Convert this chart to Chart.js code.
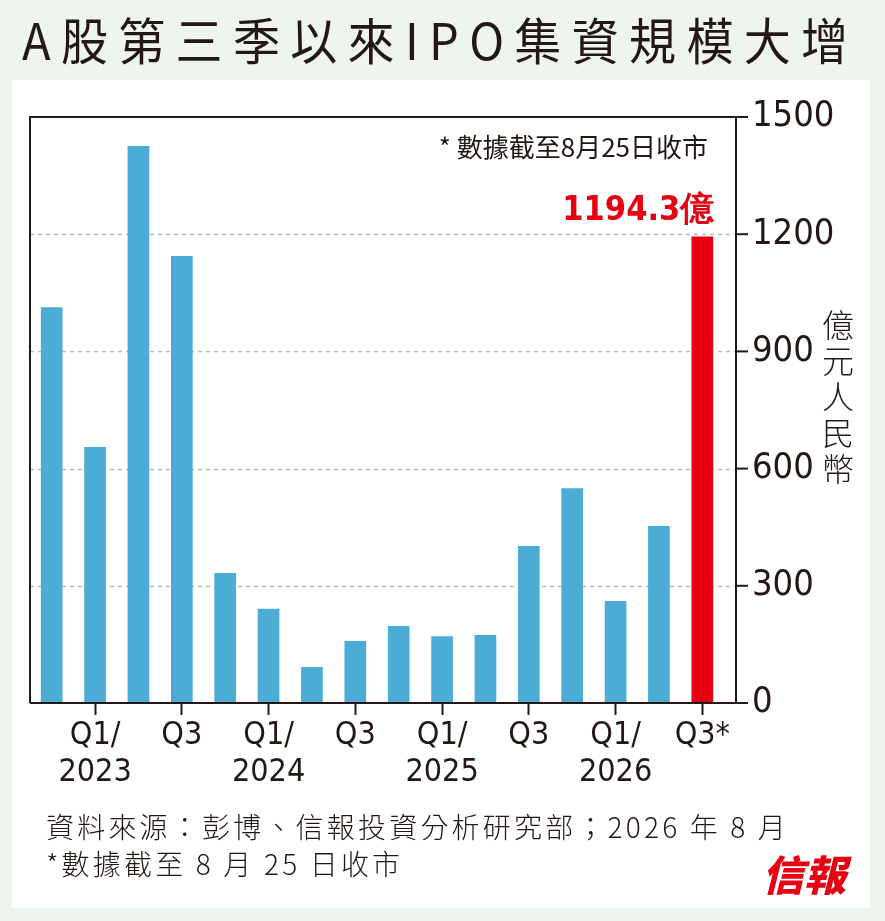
<!DOCTYPE html>
<html><head><meta charset="utf-8">
<script src="https://cdn.jsdelivr.net/npm/chart.js@4"></script>
<style>
body{margin:0;background:#eef5ee;width:885px;height:921px;overflow:hidden;font-family:"Noto Sans CJK TC","Noto Sans",sans-serif;}
#panel{position:absolute;left:12px;top:80px;width:858px;height:828px;background:#fff;}
#title{position:absolute;left:22px;top:2px;font-size:50px;color:#231815;letter-spacing:11px;white-space:nowrap;transform:scaleX(0.94);transform-origin:left;}
#wrap{position:absolute;left:0;top:0;width:885px;height:921px;}
#ytitle{position:absolute;left:820px;top:305px;font-size:32px;line-height:36px;width:36px;text-align:center;color:#231815;font-weight:300;}
.foot{position:absolute;left:46px;font-size:28px;color:#231815;white-space:nowrap;font-weight:300;letter-spacing:3.2px;}
#logo{position:absolute;left:762px;top:842px;font-size:42px;font-weight:900;color:#e60012;font-style:italic;}
</style></head><body>
<div id="panel"></div>
<div id="title">A股第三季以來IPO集資規模大增</div>
<div id="wrap"><canvas id="c" width="885" height="921"></canvas></div>
<div id="ytitle">億<br>元<br>人<br>民<br>幣</div>
<div class="foot" style="top:806px">資料來源：彭博、信報投資分析研究部；2026 年 8 月</div>
<div class="foot" style="top:843px">*數據截至 8 月 25 日收市</div>
<div id="logo">信報</div>
<script>
const categories = ['', ['Q1/','2023'], '', 'Q3', '', ['Q1/','2024'], '', 'Q3', '', ['Q1/','2025'], '', 'Q3', '', ['Q1/','2026'], '', 'Q3*'];
const ipoValues = [1013, 655, 1426, 1144, 333, 241, 92, 159, 197, 171, 174, 402, 550, 261, 453, 1194.3];
const yTicks = [0, 300, 600, 900, 1200, 1500];
const lastLabel = '1194.3億';
const note = '* 數據截至8月25日收市';

const barColors = ipoValues.map((v, i) => i === ipoValues.length - 1 ? '#e60012' : '#4bacd6');
const frameRight = 736;

const frame = {
  id: 'frame',
  beforeDatasetsDraw(chart) {
    const c = chart.ctx, a = chart.chartArea, y = chart.scales.y;
    c.save();
    c.strokeStyle = '#bbbbbb';
    c.lineWidth = 1.5;
    c.setLineDash([4, 4]);
    yTicks.forEach(v => {
      if (v === 0 || v === 1500) return;
      const py = Math.round(y.getPixelForValue(v)) + 0.5;
      c.beginPath(); c.moveTo(a.left, py); c.lineTo(frameRight, py); c.stroke();
    });
    c.restore();
  },
  afterDraw(chart) {
    const c = chart.ctx, a = chart.chartArea, y = chart.scales.y;
    c.save();
    c.strokeStyle = '#231815';
    c.lineWidth = 2;
    c.beginPath();
    c.moveTo(a.left, a.bottom); c.lineTo(a.left, a.top); c.lineTo(frameRight, a.top); c.lineTo(frameRight, a.bottom);
    c.stroke();
    c.beginPath(); c.moveTo(a.left, a.bottom); c.lineTo(frameRight + 12, a.bottom); c.stroke();
    // right axis ticks and labels
    c.fillStyle = '#231815';
    c.font = '36px "DejaVu Sans Condensed"';
    c.textAlign = 'left';
    c.textBaseline = 'middle';
    yTicks.forEach(v => {
      const py = y.getPixelForValue(v);
      c.beginPath(); c.moveTo(frameRight, py); c.lineTo(frameRight + 12, py); c.stroke();
      c.fillText(String(v), frameRight + 16, py);
    });
    // note and value label
    c.font = '26px "Noto Sans CJK TC"';
    c.textAlign = 'right';
    c.fillText(note, 708, a.top + 30);
    const meta = chart.getDatasetMeta(0).data;
    const last = meta[meta.length - 1];
    c.fillStyle = '#e60012';
    c.font = 'bold 34px "DejaVu Sans Condensed"';
    c.textBaseline = 'bottom';
    c.fillText(lastLabel, last.x + 12, last.y - 8);
    c.restore();
  }
};

new Chart(document.getElementById('c'), {
  type: 'bar',
  data: {
    labels: categories,
    datasets: [{ data: ipoValues, backgroundColor: barColors, barPercentage: 0.5, categoryPercentage: 1 }]
  },
  options: {
    responsive: false,
    animation: false,
    layout: { padding: { left: 30, top: 117, right: 0, bottom: 0 } },
    plugins: { legend: { display: false }, tooltip: { enabled: false } },
    scales: {
      x: {
        offset: true,
        afterFit(s) { s.height = 921 - 703; },
        grid: {
          offset: false, drawOnChartArea: false, tickLength: 12, tickWidth: 2,
          tickColor: ctx => (ctx.tick && ctx.tick.label && ctx.tick.label !== '') ? '#231815' : 'rgba(0,0,0,0)'
        },
        border: { display: false },
        ticks: { autoSkip: false, maxRotation: 0, color: '#231815', padding: 2, font: { size: 32, family: 'DejaVu Sans Condensed', lineHeight: 1.15 } }
      },
      y: {
        position: 'right',
        min: 0, max: 1500,
        afterFit(s) { s.width = 885 - 724; },
        afterBuildTicks(s) { s.ticks = yTicks.map(v => ({ value: v })); },
        grid: { display: false },
        border: { display: false },
        ticks: { display: false }
      }
    }
  },
  plugins: [frame]
});
</script>
</body></html>
